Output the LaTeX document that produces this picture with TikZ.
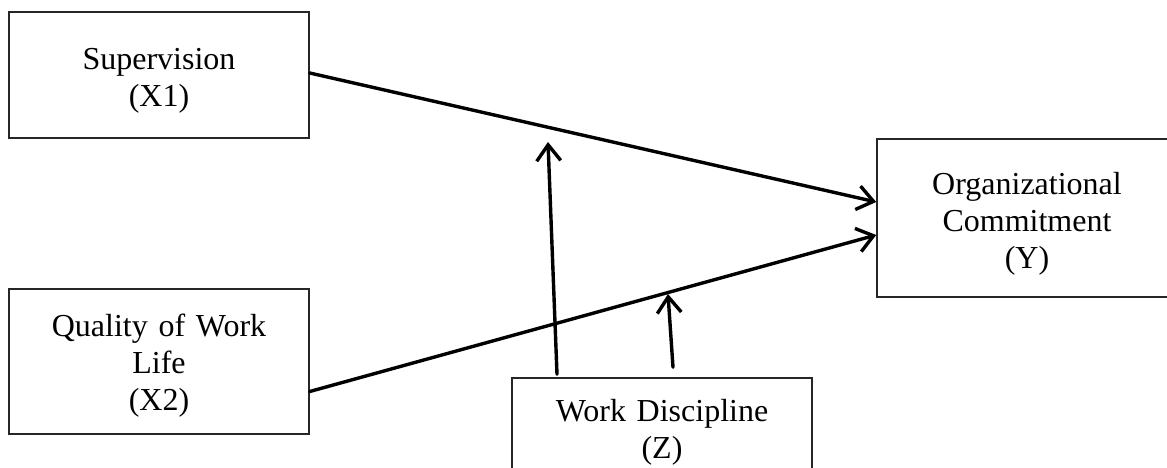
\documentclass[tikz,border=0pt]{standalone}
\usepackage{fontspec}
\setmainfont{Liberation Serif}
\usetikzlibrary{arrows.meta}
\begin{document}
\begin{tikzpicture}[x=1pt,y=-1pt,
  box/.style={draw=black!85,line width=1.5pt,minimum width=300pt,inner sep=0pt},
  txt/.style={text width=290pt,align=center,inner sep=0pt,font=\fontsize{32}{37}\selectfont},
  link/.style={line width=3.4pt,-{Straight Barb[length=16pt,width=24pt]},line cap=round}]
\clip (0,0) rectangle (1167,468);
\useasboundingbox (0,0) rectangle (1167,468);
\node[box,minimum height=126pt] (sup) at (159,75) {};
\node[box,minimum height=145pt] (qwl) at (159,361.5) {};
\node[box,minimum height=158pt] (org) at (1027,218) {};
\node[box,minimum height=106pt] (wd) at (662,431) {};
\node[txt] (suptext) at ([yshift=-6pt]sup.center) {Supervision\\(X1)};
\node[txt] (qwltext) at ([yshift=-4pt]qwl.center) {Quality of Work\\Life\\(X2)};
\node[txt] (orgtext) at ([yshift=-6pt]org.center) {Organizational\\Commitment\\(Y)};
\node[txt] (wdtext) at ([yshift=-1pt]wd.center) {Work Discipline\\(Z)};
\coordinate (m1) at (548,142);
\coordinate (m2) at (668,294);
\draw[link] ([yshift=2pt]sup.east) -- ([yshift=16pt]org.west);
\draw[link] ([yshift=-30pt]qwl.east) -- ([yshift=-17pt]org.west);
\draw[link] ([xshift=-105pt,yshift=3pt]wd.north) -- (m1);
\draw[link] ([xshift=11pt,yshift=10pt]wd.north) -- (m2);
\end{tikzpicture}
\end{document}
